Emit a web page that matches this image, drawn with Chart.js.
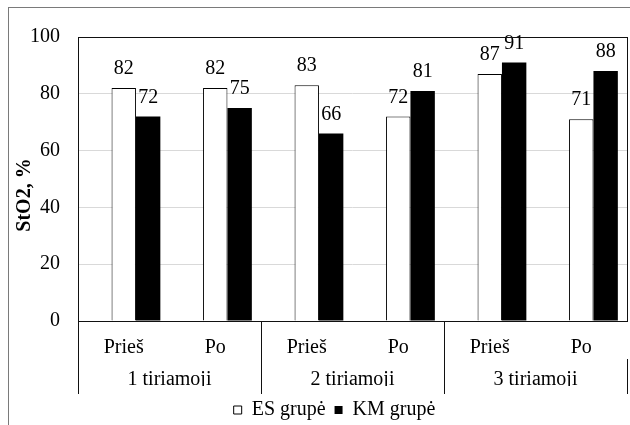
<!DOCTYPE html>
<html>
<head>
<meta charset="utf-8">
<script src="https://cdn.jsdelivr.net/npm/chart.js@4/dist/chart.umd.min.js"></script>
<style>
  html, body { margin: 0; padding: 0; background: #fff; }
  canvas { display: block; }
</style>
</head>
<body>
<canvas id="chart" width="630" height="425"></canvas>
<script>
// Measurement categories, the study groups they belong to, and StO2 values (%)
const categories = ['Prieš', 'Po', 'Prieš', 'Po', 'Prieš', 'Po'];
const groups = ['1 tiriamoji', '2 tiriamoji', '3 tiriamoji'];
const esValues = [82, 82, 83, 72, 87, 71];
const kmValues = [72, 75, 66, 81, 91, 88];
// empty leading series: reserves the first bar slot in every category
const blankValues = [null, null, null, null, null, null];
const yTicks = [0, 20, 40, 60, 80, 100];
const seriesNames = ['ES grupė', 'KM grupė'];
const axisTitle = 'StO2, %';

const FONT = '"Liberation Serif", "Times New Roman", Times, serif';
const font20 = { family: FONT, size: 20 };

// white page with the chart frame
const background = {
  id: 'background',
  beforeDraw(chart) {
    const ctx = chart.ctx;
    ctx.save();
    ctx.fillStyle = '#fff';
    ctx.fillRect(0, 0, chart.width, chart.height);
    ctx.strokeStyle = '#7a7a7a';
    ctx.lineWidth = 1;
    ctx.strokeRect(8.5, 7.5, chart.width + 40, chart.height + 40);
    ctx.restore();
  }
};

// box round the plot area
const plotFrame = {
  id: 'plotFrame',
  afterDraw(chart) {
    const { left, top, right, bottom } = chart.chartArea;
    const ctx = chart.ctx;
    ctx.save();
    ctx.strokeStyle = '#111';
    ctx.lineWidth = 1;
    ctx.strokeRect(Math.round(left) + 0.5, Math.round(top) + 0.5,
                   Math.round(right - left), Math.round(bottom - top));
    ctx.restore();
  }
};

// value labels above each bar
const valueLabels = {
  id: 'valueLabels',
  afterDatasetsDraw(chart) {
    const ctx = chart.ctx;
    ctx.save();
    ctx.font = `20px ${FONT}`;
    ctx.fillStyle = '#000';
    ctx.textAlign = 'center';
    ctx.textBaseline = 'alphabetic';
    chart.data.datasets.forEach((ds, i) => {
      if (!ds.label) return;
      chart.getDatasetMeta(i).data.forEach((bar, j) => {
        const v = ds.data[j];
        if (v == null) return;
        ctx.fillText(String(v), bar.x, bar.y - 14);
      });
    });
    ctx.restore();
  }
};

// rotated value-axis title
const yTitle = {
  id: 'yTitle',
  afterDraw(chart) {
    const { top, bottom } = chart.chartArea;
    const ctx = chart.ctx;
    ctx.save();
    ctx.translate(30, (top + bottom) / 2 + 16);
    ctx.rotate(-Math.PI / 2);
    ctx.font = `bold 20px ${FONT}`;
    ctx.fillStyle = '#000';
    ctx.textAlign = 'center';
    ctx.textBaseline = 'alphabetic';
    ctx.fillText(axisTitle, 0, 0);
    ctx.restore();
  }
};

// legend sits a little right of and below its default slot
const legendNudge = {
  id: 'legendNudge',
  afterLayout(chart) {
    const lg = chart.legend;
    if (!lg) return;
    lg.left += 21; lg.right += 21;
    lg.top += 5; lg.bottom += 5;
  }
};

new Chart(document.getElementById('chart'), {
  type: 'bar',
  data: {
    labels: categories,
    datasets: [
      { label: '', data: blankValues, backgroundColor: 'transparent', borderWidth: 0 },
      { label: seriesNames[0], data: esValues, backgroundColor: '#ffffff',
        borderColor: '#000000', borderWidth: 1 },
      { label: seriesNames[1], data: kmValues, backgroundColor: '#000000',
        borderColor: '#000000', borderWidth: 0 }
    ]
  },
  options: {
    responsive: false,
    animation: false,
    devicePixelRatio: 1,
    categoryPercentage: 0.8,
    barPercentage: 1.0,
    layout: { padding: { top: 37, right: 3, left: 0, bottom: 0 } },
    plugins: {
      tooltip: { enabled: false },
      title: { display: false },
      legend: {
        position: 'bottom',
        labels: {
          font: font20,
          color: '#000',
          boxWidth: 8,
          boxHeight: 8,
          padding: 9,
          filter: item => !!item.text
        }
      }
    },
    scales: {
      x: {
        offset: true,
        grid: {
          offset: true,
          drawOnChartArea: false,
          drawTicks: true,
          tickLength: 38,
          color: c => (c.index % 2 === 0 ? '#111' : 'transparent'),
          tickColor: c => (c.index % 2 === 0 ? '#111' : 'transparent')
        },
        border: { display: false },
        ticks: { font: font20, color: '#000', padding: -23, maxRotation: 0, autoSkip: false },
        afterFit: s => { s.height = 38; }
      },
      x2: {
        type: 'category',
        labels: groups,
        position: 'bottom',
        offset: true,
        grid: {
          offset: true,
          drawOnChartArea: false,
          drawTicks: true,
          tickLength: 35,
          color: '#111',
          tickColor: '#111'
        },
        border: { display: false },
        ticks: { font: font20, color: '#000', padding: -26, maxRotation: 0, autoSkip: false },
        afterFit: s => { s.height = 27; }
      },
      y: {
        min: yTicks[0],
        max: yTicks[yTicks.length - 1],
        afterBuildTicks: s => { s.ticks = yTicks.map(v => ({ value: v })); },
        grid: {
          drawTicks: false,
          color: c => (c.tick && (c.tick.value === yTicks[0] || c.tick.value === yTicks[yTicks.length - 1])
            ? 'transparent' : '#d9d9d9')
        },
        border: { display: false },
        ticks: { font: font20, color: '#000', padding: 18 },
        afterFit: s => { s.width = 78; }
      }
    }
  },
  plugins: [background, legendNudge, plotFrame, valueLabels, yTitle]
});
</script>
</body>
</html>
